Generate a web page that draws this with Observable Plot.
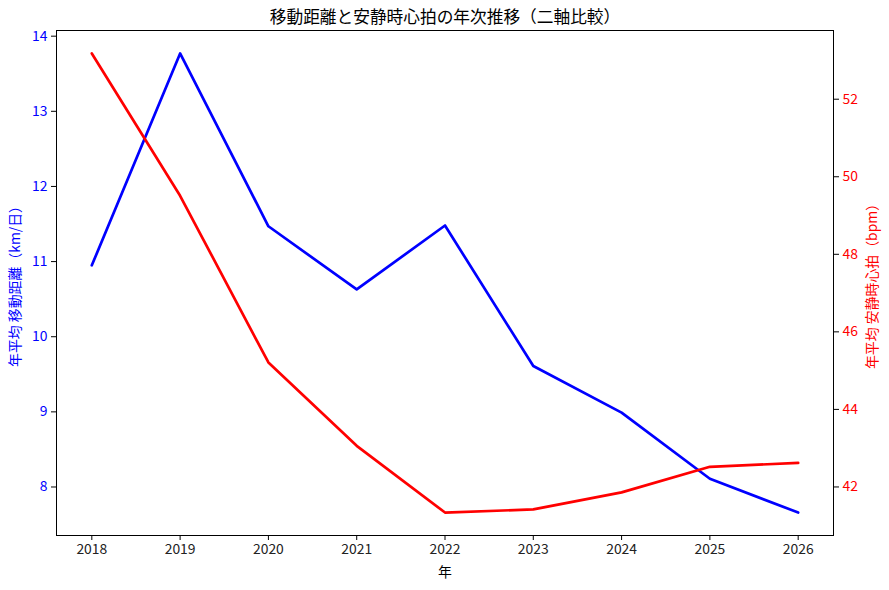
<!DOCTYPE html>
<html><head><meta charset="utf-8">
<script src="https://cdn.jsdelivr.net/npm/d3@7"></script>
<script src="https://cdn.jsdelivr.net/npm/@observablehq/plot@0.6"></script>
<style>body{margin:0;background:#fff}</style>
</head><body><div id="chart"></div>
<script>
const years = [2018, 2019, 2020, 2021, 2022, 2023, 2024, 2025, 2026];
const distance = [10.95, 13.77, 11.47, 10.63, 11.48, 9.61, 8.99, 8.11, 7.66];
const heartRate = [53.18, 49.51, 45.21, 43.06, 41.34, 41.42, 41.86, 42.52, 42.62];
const leftTicks = [8, 9, 10, 11, 12, 13, 14];
const rightTicks = [42, 44, 46, 48, 50, 52];
const xTicks = years;
const title = "移動距離と安静時心拍の年次推移（二軸比較）";
const leftLabel = "年平均 移動距離（km/日）";
const rightLabel = "年平均 安静時心拍（bpm）";
const xLabel = "年";

function pad(arr) { const mn = d3.min(arr), mx = d3.max(arr), m = (mx - mn) * 0.05; return [mn - m, mx + m]; }
const leftDomain = pad(distance);
const rightDomain = pad(heartRate);
const toLeft = d3.scaleLinear(rightDomain, leftDomain);
const fromLeft = d3.scaleLinear(leftDomain, rightDomain);
const xDomain = pad(years);

const data = years.map((y, i) => ({year: y, dist: distance[i], hr: toLeft(heartRate[i])}));

const font = "'Noto Sans CJK JP', 'Noto Sans', sans-serif";
const plot = Plot.plot({
  width: 889, height: 590,
  marginTop: 30, marginBottom: 55, marginLeft: 56, marginRight: 56,
  style: {fontFamily: font, fontSize: "13.9px", background: "white", overflow: "visible"},
  x: {domain: xDomain},
  y: {domain: leftDomain},
  marks: [
    Plot.axisX({ticks: xTicks, tickFormat: d => String(d), label: null, tickSize: 5, tickPadding: 4, fontSize: 13.9, stroke: "black", fill: "#222"}),
    Plot.axisY({ticks: leftTicks, tickFormat: d => String(d), label: null, tickSize: 5, tickPadding: 4, fontSize: 13.9, stroke: "black", fill: "blue"}),
    Plot.axisY({anchor: "right", ticks: rightTicks.map(toLeft), tickFormat: d => String(Math.round(fromLeft(d))), label: null, tickSize: 5, tickPadding: 4, fontSize: 13.9, stroke: "black", fill: "red"}),
    Plot.lineY(data, {x: "year", y: "dist", stroke: "blue", strokeWidth: 2.7}),
    Plot.lineY(data, {x: "year", y: "hr", stroke: "red", strokeWidth: 2.7}),
    Plot.frame({stroke: "black", strokeWidth: 1}),
    Plot.text([title], {frameAnchor: "top", dy: -13, lineAnchor: "middle", textAnchor: "middle", fontSize: 16.7, fill: "black"}),
    Plot.text([leftLabel], {frameAnchor: "left", dx: -41, rotate: -90, lineAnchor: "middle", textAnchor: "middle", fontSize: 13.9, fill: "blue"}),
    Plot.text([rightLabel], {frameAnchor: "right", dx: 39, rotate: -90, lineAnchor: "middle", textAnchor: "middle", fontSize: 13.9, fill: "red"}),
    Plot.text([xLabel], {frameAnchor: "bottom", dy: 37, lineAnchor: "middle", textAnchor: "middle", fontSize: 13.9, fill: "black"})
  ]
});
document.getElementById("chart").appendChild(plot);
</script>
</body></html>
